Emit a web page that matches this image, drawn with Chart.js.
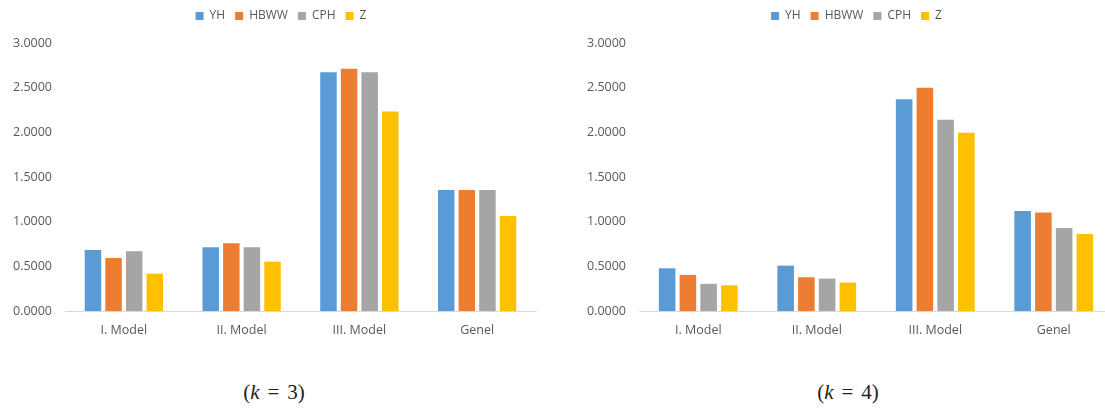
<!DOCTYPE html>
<html>
<head>
<meta charset="utf-8">
<script src="https://cdn.jsdelivr.net/npm/chart.js@4.4.1/dist/chart.umd.min.js"></script>
<style>
html,body{margin:0;padding:0;width:1105px;height:412px;overflow:hidden;background:#fff;}
.box{position:absolute;top:0;}
.cap{position:absolute;top:380px;width:160px;text-align:center;font-family:"Liberation Serif",serif;font-size:21px;color:#222;}
.cap i{font-style:italic;}
.cap .eq{margin:0 8px;}
</style>
</head>
<body>
<div class="box" style="left:0px;"><canvas id="chart3" width="562" height="345"></canvas></div>
<div class="box" style="left:582px;"><canvas id="chart4" width="548" height="345"></canvas></div>
<div class="cap" style="left:194px;">(<i>k</i><span class="eq">=</span>3)</div>
<div class="cap" style="left:768px;">(<i>k</i><span class="eq">=</span>4)</div>
<script>

const categories=["I. Model","II. Model","III. Model","Genel"];
const seriesNames=["YH","HBWW","CPH","Z"];
const yTicks=[0,0.5,1,1.5,2,2.5,3];

// k = 3
const yh3=[0.683,0.713,2.673,1.355];
const hbww3=[0.593,0.758,2.713,1.355];
const cph3=[0.668,0.713,2.673,1.355];
const z3=[0.418,0.552,2.232,1.064];

// k = 4
const yh4=[0.478,0.508,2.371,1.120];
const hbww4=[0.404,0.378,2.500,1.104];
const cph4=[0.304,0.363,2.140,0.930];
const z4=[0.288,0.318,1.994,0.862];

const colors=["#5B9BD5","#ED7D31","#A5A5A5","#FFC000"];
const textColor="#595959";
const font="'Open Sans', sans-serif";

function legendTweak(shift){
return {
id:"legendTweak",
beforeInit(chart){
const fit=chart.legend.fit;
chart.legend.fit=function(){
fit.bind(chart.legend)();
this.height=43;
};
},
afterLayout(chart){
chart.legend.left+=shift;
chart.legend.right+=shift;
}
};
}

function makeChart(id,values,yWidth,padRight,shift){

const datasets=values.map((v,i)=>({
label:seriesNames[i],
data:v,
backgroundColor:colors[i],
borderWidth:0,
categoryPercentage:0.7,
barPercentage:0.8
}));

return new Chart(document.getElementById(id),{
type:'bar',
data:{labels:categories,datasets:datasets},
plugins:[legendTweak(shift)],
options:{
responsive:false,
animation:false,
layout:{padding:{left:0,right:padRight,top:0,bottom:0}},
plugins:{
tooltip:{enabled:false},
legend:{
position:'top',
labels:{
boxWidth:8,
boxHeight:8,
padding:10,
color:textColor,
font:{family:font,size:12}
}
}
},
scales:{
x:{
grid:{display:false,drawTicks:false},
border:{display:true,color:"#D9D9D9",width:1},
ticks:{color:textColor,padding:12,font:{family:font,size:12.5}},
afterFit(scale){scale.height=34;}
},
y:{
min:0,
max:3,
afterBuildTicks(scale){scale.ticks=yTicks.map(v=>({value:v}));},
grid:{display:false,drawTicks:false},
border:{display:false},
ticks:{
color:textColor,
padding:13,
font:{family:font,size:12.5},
callback:v=>Number(v).toFixed(4)
},
afterFit(scale){scale.width=yWidth;}
}
}
}
});

}

makeChart("chart3",[yh3,hbww3,cph3,z3],65,26,13);
makeChart("chart4",[yh4,hbww4,cph4,z4],57,17,9);

</script>
</body>
</html>
